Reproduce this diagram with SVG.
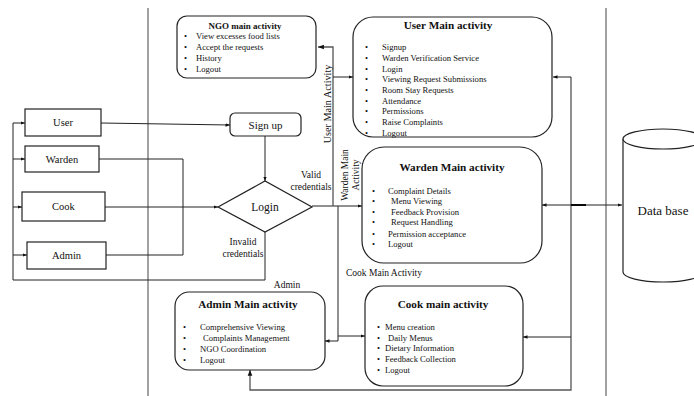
<svg xmlns="http://www.w3.org/2000/svg" width="694" height="396" viewBox="0 0 694 396">
<style>
text{font-family:"Liberation Serif","Times New Roman",serif;fill:#111}
.box{fill:#fff;stroke:#222;stroke-width:1.2}
.lbl{font-size:10.5px;text-anchor:middle;dominant-baseline:central}
.ttl{font-size:11.2px;font-weight:bold;text-anchor:middle;dominant-baseline:central}
.it{font-size:8.6px;dominant-baseline:central}
.sm{font-size:9.5px;dominant-baseline:central}
.ln{fill:none;stroke:#222;stroke-width:1}
.gl{fill:none;stroke:#555;stroke-width:1.3}
.sep{fill:none;stroke:#444;stroke-width:1}
</style>
<defs>
<marker id="ah" viewBox="0 0 10 10" refX="10" refY="5" markerWidth="4.5" markerHeight="4.5" orient="auto-start-reverse">
<path d="M0,1 L10,5 L0,9 z" fill="#111"/>
</marker>
</defs>
<rect width="694" height="396" fill="#fff"/>
<g id="separators">
<line class="sep" x1="148" y1="8" x2="148" y2="396"/>
<line class="sep" x1="606" y1="8" x2="606" y2="396"/>
</g>
<g id="connectors">
<polyline class="ln" points="13,280 13,123 25,123" marker-end="url(#ah)"/>
<line class="ln" x1="13" y1="159" x2="25" y2="159" marker-end="url(#ah)"/>
<line class="ln" x1="13" y1="207" x2="22" y2="207" marker-end="url(#ah)"/>
<line class="ln" x1="13" y1="255" x2="27" y2="255" marker-end="url(#ah)"/>
<line class="ln" x1="101" y1="123" x2="230" y2="125" marker-end="url(#ah)"/>
<line class="ln" x1="265" y1="136" x2="265" y2="181" marker-end="url(#ah)"/>
<polyline class="ln" points="99,159 183,159 183,255 106,255"/>
<line class="ln" x1="105" y1="207" x2="218" y2="207" marker-end="url(#ah)"/>
<polyline class="ln" points="265,232 265,280 13,280"/>
<line class="ln" x1="312" y1="206" x2="362" y2="206" marker-end="url(#ah)"/>
<polyline class="gl" points="333,206 333,47 318,47" marker-end="url(#ah)"/>
<line class="ln" x1="333" y1="77" x2="353" y2="77" marker-end="url(#ah)"/>
<polyline class="ln" points="338,206 338,341 325,341" marker-end="url(#ah)"/>
<line class="ln" x1="338" y1="336" x2="365" y2="336" marker-end="url(#ah)"/>
<polyline class="gl" points="571,77 571,390 250,390 250,370" marker-end="url(#ah)"/>
<line class="ln" x1="571" y1="77" x2="553" y2="77" marker-end="url(#ah)"/>
<line class="ln" x1="571" y1="337" x2="523" y2="337" marker-end="url(#ah)"/>
<line class="ln" x1="586" y1="205" x2="542" y2="205" marker-end="url(#ah)"/>
<line class="ln" x1="571" y1="205" x2="622" y2="205" marker-end="url(#ah)"/>
<line x1="571" y1="205" x2="586" y2="205" stroke="#000" stroke-width="1.8"/>
</g>
<g id="user"><rect class="box" x="25" y="109" width="76" height="27"/><text class="lbl" x="63" y="122.5">User</text></g>
<g id="warden"><rect class="box" x="25" y="146" width="74" height="26"/><text class="lbl" x="62" y="159">Warden</text></g>
<g id="cook"><rect class="box" x="22" y="192" width="83" height="29"/><text class="lbl" x="63.5" y="206.5">Cook</text></g>
<g id="admin"><rect class="box" x="27" y="242" width="79" height="27"/><text class="lbl" x="66.5" y="255.5">Admin</text></g>
<g id="signup"><rect class="box" x="230" y="113" width="71" height="23" rx="5"/><text class="lbl" x="265.5" y="124.5" style="font-size:11px">Sign up</text></g>
<g id="login"><polygon class="box" points="218,207 265,181 312,207 265,232"/><text class="lbl" x="265" y="207" style="font-size:11.5px">Login</text></g>
<g id="labels">
<text class="sm" x="311" y="175" text-anchor="middle">Valid</text>
<text class="sm" x="311" y="187" text-anchor="middle">credentials</text>
<text class="sm" x="243" y="242" text-anchor="middle">Invalid</text>
<text class="sm" x="243" y="254" text-anchor="middle">credentials</text>
<text class="sm" transform="translate(327,104) rotate(-90)" text-anchor="middle" style="font-size:10.2px">User Main Activity</text>
<text class="sm" transform="translate(345,175) rotate(-90)" text-anchor="middle">Warden Main</text>
<text class="sm" transform="translate(356,175) rotate(-90)" text-anchor="middle">Activity</text>
<text class="sm" x="346" y="273">Cook Main Activity</text>
<text class="sm" x="287" y="285" text-anchor="middle">Admin</text>
</g>
<g id="ngo">
<rect class="box" x="177" y="16" width="139" height="62" rx="10"/>
<text class="ttl" x="245" y="25.5" style="font-size:9px">NGO main activity</text>
<g class="it"><text x="184" y="36">•</text><text x="196" y="36">View excesses food lists</text>
<text x="184" y="47">•</text><text x="196" y="47">Accept the requests</text>
<text x="184" y="58">•</text><text x="196" y="58">History</text>
<text x="184" y="69">•</text><text x="196" y="69">Logout</text></g>
</g>
<g id="usermain">
<rect class="box" x="353" y="17" width="199" height="120" rx="20"/>
<text class="ttl" x="448" y="24.5">User Main activity</text>
<g class="it">
<text x="365" y="47">•</text><text x="382" y="47">Signup</text>
<text x="365" y="57.5">•</text><text x="382" y="57.5">Warden Verification Service</text>
<text x="365" y="68.5">•</text><text x="382" y="68.5">Login</text>
<text x="365" y="79">•</text><text x="382" y="79">Viewing Request Submissions</text>
<text x="365" y="90">•</text><text x="382" y="90">Room Stay Requests</text>
<text x="365" y="100.5">•</text><text x="382" y="100.5">Attendance</text>
<text x="365" y="111">•</text><text x="382" y="111">Permissions</text>
<text x="365" y="122">•</text><text x="382" y="122">Raise Complaints</text>
<text x="365" y="132.5">•</text><text x="382" y="132.5">Logout</text>
</g>
</g>
<g id="wardenmain">
<rect class="box" x="362" y="147" width="180" height="116" rx="22"/>
<text class="ttl" x="452" y="167">Warden Main activity</text>
<g class="it">
<text x="372" y="190.5">•</text><text x="388" y="190.5">Complaint Details</text>
<text x="372" y="201">•</text><text x="391" y="201">Menu Viewing</text>
<text x="372" y="211.5">•</text><text x="391" y="211.5">Feedback Provision</text>
<text x="372" y="222">•</text><text x="391" y="222">Request Handling</text>
<text x="372" y="233.5">•</text><text x="388" y="233.5">Permission acceptance</text>
<text x="372" y="244">•</text><text x="388" y="244">Logout</text>
</g>
</g>
<g id="cookmain">
<rect class="box" x="365" y="286" width="158" height="100" rx="18"/>
<text class="ttl" x="443" y="303.5">Cook main activity</text>
<g class="it">
<text x="377" y="326.5">•</text><text x="385" y="326.5">Menu creation</text>
<text x="377" y="337.5">•</text><text x="388" y="337.5">Daily Menus</text>
<text x="377" y="348">•</text><text x="385" y="348">Dietary Information</text>
<text x="377" y="359">•</text><text x="385" y="359">Feedback Collection</text>
<text x="377" y="370">•</text><text x="385" y="370">Logout</text>
</g>
</g>
<g id="adminmain">
<rect class="box" x="175" y="292" width="150" height="78" rx="14"/>
<text class="ttl" x="248" y="303.5">Admin Main activity</text>
<g class="it">
<text x="183" y="327">•</text><text x="200" y="327">Comprehensive Viewing</text>
<text x="183" y="338">•</text><text x="203" y="338">Complaints Management</text>
<text x="183" y="349">•</text><text x="200" y="349">NGO Coordination</text>
<text x="183" y="359.5">•</text><text x="200" y="359.5">Logout</text>
</g>
</g>
<g id="database">
<path class="box" d="M623,139 L623,272 A40,10 0 0 0 703,272 L703,139"/>
<ellipse class="box" cx="663" cy="139" rx="40" ry="10"/>
<text x="663" y="210" text-anchor="middle" dominant-baseline="central" style="font-size:13px">Data base</text>
</g>
</svg>
